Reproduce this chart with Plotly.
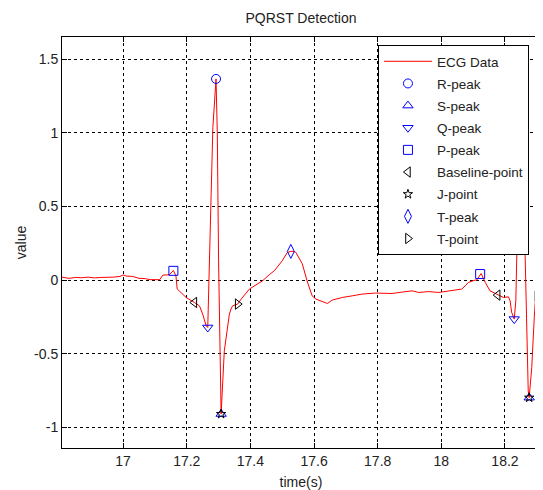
import plotly.graph_objects as go

# ECG trace (time in s, value)
ecg_t = [16.808, 16.83, 16.85, 16.87, 16.89, 16.91, 16.93, 16.95, 16.97, 16.99, 17.0, 17.01,
         17.03, 17.05, 17.07, 17.085, 17.10, 17.115, 17.125, 17.145, 17.158, 17.166, 17.17,
         17.193, 17.198, 17.224, 17.240, 17.250, 17.261, 17.266, 17.269, 17.277, 17.282,
         17.292, 17.296, 17.300, 17.306, 17.308, 17.318, 17.322, 17.334, 17.339, 17.344,
         17.360, 17.371, 17.397, 17.422, 17.438, 17.459, 17.475, 17.500, 17.516, 17.527,
         17.534, 17.543, 17.563, 17.578, 17.594, 17.606, 17.631, 17.642, 17.657, 17.689,
         17.720, 17.751, 17.793, 17.845, 17.882, 17.908, 17.929, 17.960, 17.992, 18.023,
         18.064, 18.075, 18.085, 18.106, 18.111, 18.125, 18.138, 18.153, 18.177, 18.195,
         18.211, 18.216, 18.221, 18.229, 18.234, 18.237, 18.250, 18.263, 18.268, 18.273,
         18.276, 18.284, 18.292, 18.296, 18.302, 18.310]
ecg_v = [0.020, 0.012, 0.018, 0.016, 0.020, 0.015, 0.018, 0.017, 0.020, 0.025, 0.035, 0.027,
         0.025, 0.012, 0.010, 0.003, 0.005, 0.003, 0.034, 0.036, 0.065, 0.029, -0.060,
         -0.107, -0.118, -0.152, -0.175, -0.231, -0.311, -0.322, -0.093, 0.628, 1.036,
         1.367, 1.000, 0.131, -0.549, -0.910, -0.481, -0.410, -0.231, -0.197, -0.175,
         -0.163, -0.129, -0.061, -0.027, -0.005, 0.036, 0.063, 0.131, 0.188, 0.195,
         0.196, 0.188, 0.111, -0.005, -0.107, -0.129, -0.152, -0.159, -0.136, -0.118,
         -0.107, -0.095, -0.088, -0.091, -0.080, -0.073, -0.084, -0.078, -0.084, -0.073,
         -0.061, -0.039, -0.016, 0.000, 0.000, 0.045, -0.016, -0.073, -0.102, -0.118,
         -0.114, -0.141, -0.220, -0.265, -0.141, 0.200, 1.420, 0.200, -0.254, -0.753,
         -0.799, -0.595, -0.254, -0.118, -0.107, -0.100]

r_t, r_v = [17.292, 18.250], [1.367, 1.420]
s_t, s_v = [17.308, 18.276], [-0.910, -0.799]
q_t, q_v = [17.266, 18.229], [-0.322, -0.265]
p_t, p_v = [17.158, 18.122], [0.063, 0.041]
base_t, base_v = [17.224, 18.177], [-0.152, -0.102]
j_t, j_v = [17.308, 18.276], [-0.910, -0.799]
tpk_t, tpk_v = [17.527], [0.195]
tpt_t, tpt_v = [17.360, 18.302], [-0.163, -0.107]

x_ticks = [17, 17.2, 17.4, 17.6, 17.8, 18, 18.2]
x_labels = ["17", "17.2", "17.4", "17.6", "17.8", "18", "18.2"]
y_ticks = [-1, -0.5, 0, 0.5, 1, 1.5]
y_labels = ["-1", "-0.5", "0", "0.5", "1", "1.5"]

BLUE = "#0000ff"
BLACK = "#000000"
FONT = "Liberation Sans, Arial, sans-serif"

fig = go.Figure()
fig.add_trace(go.Scatter(x=ecg_t, y=ecg_v, mode="lines", name="ECG Data",
                         line=dict(color="#ff0000", width=1), legendgroup="a"))

markers = [
    ("R-peak", r_t, r_v, "circle-open", BLUE, 9),
    ("S-peak", s_t, s_v, "triangle-up-open", BLUE, 9),
    ("Q-peak", q_t, q_v, "triangle-down-open", BLUE, 9),
    ("P-peak", p_t, p_v, "square-open", BLUE, 9),
    ("Baseline-point", base_t, base_v, "triangle-left-open", BLACK, 9),
    ("J-point", j_t, j_v, "star-open", BLACK, 7),
    ("T-peak", tpk_t, tpk_v, "diamond-tall-open", BLUE, 10),
    ("T-point", tpt_t, tpt_v, "triangle-right-open", BLACK, 9),
]
for i, (name, xs, ys, sym, col, sz) in enumerate(markers):
    fig.add_trace(go.Scatter(x=xs, y=ys, mode="markers", name=name, legendgroup="g%d" % i,
                             marker=dict(symbol=sym, color=col, size=sz,
                                         line=dict(color=col, width=1))))

axis_common = dict(showline=True, linecolor=BLACK, linewidth=1, mirror="ticks",
                   ticks="inside", ticklen=5, tickcolor=BLACK,
                   showgrid=True, gridcolor=BLACK, gridwidth=1, griddash="3px,3px",
                   zeroline=False, tickfont=dict(family=FONT, size=14, color="#222"),
                   title_font=dict(family=FONT, size=14, color="#222"))

fig.update_xaxes(range=[16.808, 18.310], tickvals=x_ticks, ticktext=x_labels,
                 title_text="time(s)", title_standoff=9, **axis_common)
fig.update_yaxes(range=[-1.141, 1.652], tickvals=y_ticks, ticktext=y_labels,
                 title_text="value", title_standoff=4, **axis_common)

fig.update_layout(
    width=535, height=482,
    margin=dict(l=54, r=3, t=29, b=42, autoexpand=False),
    paper_bgcolor="white", plot_bgcolor="white",
    title=dict(text="PQRST Detection", x=0.5, xanchor="center", xref="paper",
               y=0.979, yanchor="middle",
               font=dict(family=FONT, size=14, color="#222")),
    legend=dict(x=0.661, y=0.9805, xanchor="left", yanchor="top",
                bgcolor="white", bordercolor=BLACK, borderwidth=1,
                font=dict(family=FONT, size=13.5, color="#222"),
                itemwidth=48, tracegroupgap=1.6, traceorder="grouped",
                entrywidth=148),
    showlegend=True,
)

fig.write_html("out.html")
